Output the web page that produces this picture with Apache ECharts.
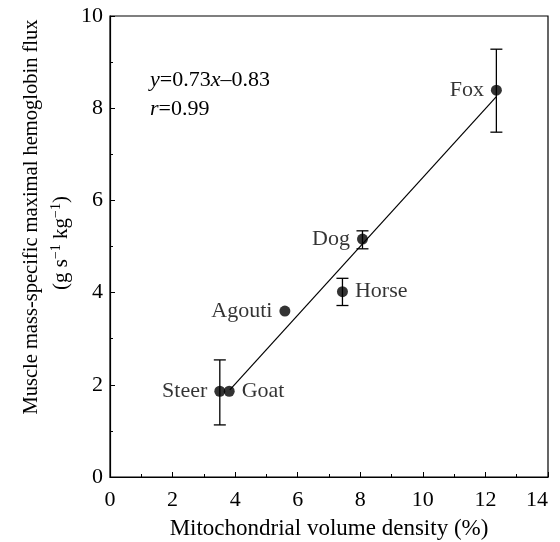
<!DOCTYPE html>
<html>
<head>
<meta charset="utf-8">
<script src="https://cdn.jsdelivr.net/npm/echarts@6/dist/echarts.min.js"></script>
<style>
html,body{margin:0;padding:0;background:#fff;}
#c{width:560px;height:542px;}
</style>
</head>
<body>
<div id="c"></div>
<script>
var animals = ['Steer', 'Goat', 'Agouti', 'Horse', 'Dog', 'Fox'];
var mitoDensity = [3.51, 3.81, 5.59, 7.43, 8.07, 12.35];
var hbFlux = [1.86, 1.86, 3.6, 4.02, 5.16, 8.39];
var labelSide = ['left', 'right', 'left', 'right', 'left', 'left'];
var errLow = [1.13, null, null, 3.72, 4.95, 7.48];
var errHigh = [2.54, null, null, 4.31, 5.34, 9.28];
var fitX = [3.83, 12.35];
var fitY = [1.89, 8.25];
var xTicks = [0, 2, 4, 6, 8, 10, 12, 14];
var yTicks = [0, 2, 4, 6, 8, 10];

var FONT = "'Liberation Serif', 'Times New Roman', serif";

var pts = animals.map(function (a, i) {
  return { name: a, value: [mitoDensity[i], hbFlux[i]], label: { position: labelSide[i] } };
});
var errs = [];
animals.forEach(function (a, i) {
  if (errLow[i] != null) errs.push([mitoDensity[i], errLow[i], errHigh[i]]);
});
var fit = fitX.map(function (x, i) { return [x, fitY[i]]; });

var chart = echarts.init(document.getElementById('c'));
chart.setOption({
  animation: false,
  backgroundColor: '#fff',
  textStyle: { fontFamily: FONT, color: '#000' },
  grid: {
    left: 110, right: 12, top: 16, bottom: 65, outerBoundsMode: 'none', containLabel: false,
    show: true, borderColor: '#000', borderWidth: 1.2, backgroundColor: 'transparent'
  },
  xAxis: {
    type: 'value', min: xTicks[0], max: xTicks[xTicks.length - 1], interval: 2,
    name: 'Mitochondrial volume density (%)', nameLocation: 'middle', nameGap: 40,
    nameTextStyle: { fontFamily: FONT, fontSize: 23, color: '#000' },
    axisLine: { show: true, lineStyle: { color: '#000', width: 1.2 } },
    axisTick: { show: true, inside: true, length: 5, lineStyle: { color: '#000' } },
    minorTick: { show: true, splitNumber: 2, length: 3, lineStyle: { color: '#000' } },
    splitLine: { show: false },
    axisLabel: { fontFamily: FONT, fontSize: 22, color: '#000', margin: 12, alignMaxLabel: 'right' }
  },
  yAxis: {
    type: 'value', min: yTicks[0], max: yTicks[yTicks.length - 1], interval: 2,
    axisLine: { show: true, lineStyle: { color: '#000', width: 1.2 } },
    axisTick: { show: true, inside: true, length: 5, lineStyle: { color: '#000' } },
    minorTick: { show: true, splitNumber: 2, length: 3, lineStyle: { color: '#000' } },
    splitLine: { show: false },
    axisLabel: { fontFamily: FONT, fontSize: 22, color: '#000', margin: 7 }
  },
  graphic: [{
    type: 'text', left: 150, top: 66,
    style: {
      text: '{i|y}=0.73{i|x}\u20130.83\n{i|r}=0.99',
      fontFamily: FONT, fontSize: 22, fill: '#000', lineHeight: 29,
      rich: { i: { fontFamily: FONT, fontSize: 22, fontStyle: 'italic', fill: '#000', lineHeight: 29 } }
    }
  }, {
    type: 'text', x: 32, y: 217, rotation: Math.PI / 2,
    style: {
      text: 'Muscle mass-specific maximal hemoglobin flux',
      fontFamily: FONT, fontSize: 20.5, fill: '#000', align: 'center', verticalAlign: 'middle'
    }
  }, {
    type: 'text', x: 61, y: 243, rotation: Math.PI / 2,
    style: {
      text: '(g s{sup|\u22121} kg{sup|\u22121})',
      fontFamily: FONT, fontSize: 21, fill: '#000', align: 'center', verticalAlign: 'middle',
      rich: { sup: { fontFamily: FONT, fontSize: 14, fill: '#000', verticalAlign: 'top', padding: [0, 0, 9, 0] } }
    }
  }],
  series: [
    {
      type: 'line', data: fit, symbol: 'none', silent: true,
      lineStyle: { color: '#000', width: 1.2 }, z: 2
    },
    {
      type: 'custom', data: errs, z: 3,
      renderItem: function (params, api) {
        var x = api.value(0), lo = api.value(1), hi = api.value(2);
        var t = api.coord([x, hi]), b = api.coord([x, lo]);
        var w = 6, st = { stroke: '#000', lineWidth: 1.3 };
        return {
          type: 'group', children: [
            { type: 'line', shape: { x1: t[0], y1: t[1], x2: b[0], y2: b[1] }, style: st },
            { type: 'line', shape: { x1: t[0] - w, y1: t[1], x2: t[0] + w, y2: t[1] }, style: st },
            { type: 'line', shape: { x1: b[0] - w, y1: b[1], x2: b[0] + w, y2: b[1] }, style: st }
          ]
        };
      }
    },
    {
      type: 'scatter', data: pts, symbol: 'circle', symbolSize: 11, z: 4,
      itemStyle: { color: '#000' },
      label: {
        show: true, formatter: '{b}', distance: 7,
        fontFamily: FONT, fontSize: 22, color: '#000'
      }
    }
  ]
});
</script>
</body>
</html>
